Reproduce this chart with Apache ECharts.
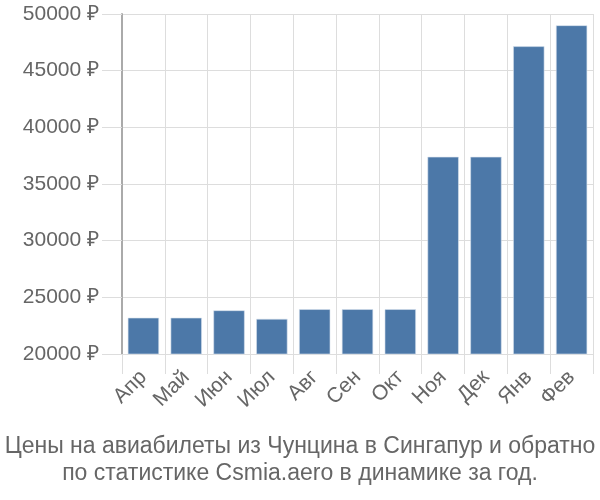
<!DOCTYPE html>
<html><head><meta charset="utf-8">
<script src="https://cdn.jsdelivr.net/npm/echarts@6/dist/echarts.min.js"></script>
<style>html,body{margin:0;padding:0;background:#fff}#c{width:600px;height:500px}</style>
</head><body><div id="c"></div>
<script>
var categories = ['Апр','Май','Июн','Июл','Авг','Сен','Окт','Ноя','Дек','Янв','Фев'];
var prices = [23200, 23200, 23850, 23100, 23950, 23950, 23950, 37400, 37400, 47150, 49000];
var titleLines = ['Цены на авиабилеты из Чунцина в Сингапур и обратно', 'по статистике Csmia.aero в динамике за год.'];
var yMin = 20000, yMax = 50000, yStep = 5000;

var chart = echarts.init(document.getElementById('c'));
chart.setOption({
  animation: false,
  title: {
    text: titleLines.join('\n'),
    left: 'center', bottom: 8,
    textStyle: {fontFamily: 'Liberation Sans, Arial, sans-serif', fontSize: 23, fontWeight: 'normal', color: '#666', lineHeight: 27}
  },
  grid: {left: 122, right: 7, top: 14, bottom: 146},
  xAxis: {
    type: 'category', data: categories,
    axisLine: {show: true, lineStyle: {color: '#ddd', width: 1}},
    axisTick: {show: true, length: 20, lineStyle: {color: '#ddd'}},
    splitLine: {show: true, lineStyle: {color: '#ddd', width: 1}},
    axisLabel: {rotate: 45, margin: 20, fontFamily: 'Liberation Sans, Arial, sans-serif', fontSize: 21, color: '#666'}
  },
  yAxis: {
    type: 'value', min: yMin, max: yMax, interval: yStep,
    axisLine: {show: true, lineStyle: {color: '#aaa', width: 2}},
    axisTick: {show: true, length: 20, lineStyle: {color: '#ddd'}},
    splitLine: {show: true, lineStyle: {color: '#ddd', width: 1}},
    axisLabel: {margin: 23, fontFamily: 'Liberation Sans, Arial, sans-serif', fontSize: 21, color: '#666', formatter: function(v){return v + ' ₽';}}
  },
  series: [{
    type: 'bar', data: prices, barCategoryGap: '27%',
    itemStyle: {color: '#4c78a8', borderColor: '#d9e3ee', borderWidth: 0.6}
  }]
});
</script></body></html>
